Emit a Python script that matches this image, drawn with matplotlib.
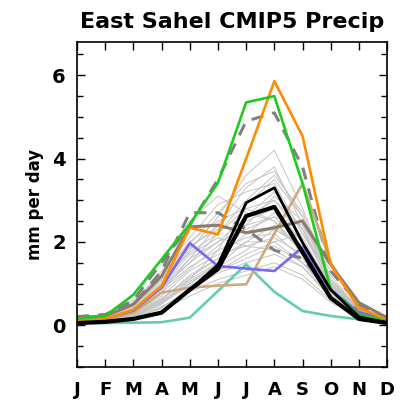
import matplotlib
matplotlib.use("Agg")
import matplotlib.pyplot as plt
import numpy as np
from matplotlib.ticker import MultipleLocator

months = ['J', 'F', 'M', 'A', 'M', 'J', 'J', 'A', 'S', 'O', 'N', 'D']

# individual CMIP5 models (thin gray)
gray_models = [
    [0.10, 0.15, 0.40, 1.00, 1.80, 2.60, 3.60, 4.20, 2.80, 1.10, 0.40, 0.15],
    [0.08, 0.12, 0.30, 0.80, 1.60, 2.40, 3.30, 3.80, 2.40, 0.90, 0.30, 0.10],
    [0.15, 0.20, 0.55, 1.30, 2.10, 2.90, 3.20, 3.40, 2.20, 1.00, 0.35, 0.12],
    [0.05, 0.08, 0.20, 0.50, 1.10, 1.80, 2.90, 3.50, 2.60, 1.00, 0.30, 0.08],
    [0.10, 0.15, 0.35, 0.90, 1.50, 2.00, 2.60, 3.00, 2.30, 1.10, 0.35, 0.10],
    [0.12, 0.18, 0.45, 1.10, 1.90, 2.30, 2.40, 2.60, 2.00, 1.00, 0.40, 0.15],
    [0.05, 0.10, 0.25, 0.60, 1.20, 1.60, 2.20, 2.70, 2.00, 0.80, 0.25, 0.08],
    [0.08, 0.12, 0.30, 0.70, 1.30, 1.70, 1.90, 2.10, 1.70, 0.80, 0.30, 0.10],
    [0.20, 0.25, 0.60, 1.60, 2.50, 3.10, 2.70, 2.50, 1.80, 0.90, 0.40, 0.20],
    [0.06, 0.10, 0.22, 0.55, 1.00, 1.40, 1.80, 2.30, 1.90, 0.90, 0.30, 0.08],
    [0.10, 0.14, 0.35, 0.85, 1.40, 1.80, 2.10, 2.20, 1.60, 0.70, 0.25, 0.10],
    [0.05, 0.08, 0.18, 0.40, 0.90, 1.30, 1.60, 1.90, 1.50, 0.70, 0.20, 0.06],
    [0.15, 0.22, 0.50, 1.20, 2.00, 2.50, 2.80, 3.00, 2.10, 0.90, 0.35, 0.15],
    [0.08, 0.12, 0.28, 0.65, 1.10, 1.50, 2.40, 3.10, 2.50, 1.00, 0.30, 0.10],
    [0.10, 0.16, 0.40, 0.95, 1.70, 2.10, 1.90, 1.80, 1.40, 0.70, 0.30, 0.12],
    [0.06, 0.09, 0.20, 0.45, 0.80, 1.10, 1.30, 1.50, 1.20, 0.60, 0.20, 0.07],
    [0.12, 0.18, 0.42, 1.05, 1.75, 2.20, 3.00, 3.60, 2.70, 1.10, 0.40, 0.14],
    [0.07, 0.10, 0.24, 0.58, 1.05, 1.45, 2.00, 2.40, 1.80, 0.80, 0.25, 0.08],
    [0.09, 0.13, 0.32, 0.78, 1.35, 1.90, 2.50, 2.80, 2.00, 0.85, 0.28, 0.10],
    [0.05, 0.07, 0.15, 0.35, 0.70, 1.00, 1.20, 1.40, 1.10, 0.55, 0.18, 0.06],
    [0.14, 0.20, 0.48, 1.15, 1.95, 2.70, 3.40, 3.70, 2.60, 1.05, 0.38, 0.14],
    [0.08, 0.11, 0.26, 0.62, 1.15, 1.60, 2.00, 2.00, 1.50, 0.75, 0.26, 0.09],
    [0.10, 0.15, 0.38, 0.88, 1.50, 2.20, 2.80, 2.50, 1.70, 0.80, 0.30, 0.11],
    [0.06, 0.09, 0.21, 0.52, 0.95, 1.30, 1.70, 2.00, 2.20, 1.20, 0.35, 0.08],
    [0.11, 0.16, 0.36, 0.92, 1.60, 2.00, 2.30, 2.60, 2.40, 1.30, 0.45, 0.13],
    [0.07, 0.10, 0.23, 0.55, 1.00, 1.50, 2.60, 3.20, 2.30, 0.95, 0.28, 0.08],
    [0.13, 0.19, 0.46, 1.10, 1.85, 2.40, 2.20, 2.30, 1.90, 0.95, 0.38, 0.14],
    [0.05, 0.08, 0.17, 0.42, 0.85, 1.25, 1.50, 1.70, 1.40, 0.65, 0.22, 0.06],
]

# highlighted models
dash_a = [0.20, 0.25, 0.60, 1.50, 2.40, 3.50, 4.90, 5.10, 3.80, 1.30, 0.50, 0.15]
dash_b = [0.20, 0.25, 0.50, 1.30, 2.70, 2.70, 2.30, 1.80, 1.60, 0.80, 0.35, 0.15]
green = [0.15, 0.22, 0.73, 1.58, 2.42, 3.42, 5.35, 5.50, 3.40, 0.85, 0.25, 0.10]
orange = [0.10, 0.15, 0.37, 0.94, 2.34, 2.18, 4.00, 5.86, 4.54, 1.45, 0.42, 0.12]
purple = [0.10, 0.15, 0.35, 0.90, 1.97, 1.42, 1.36, 1.30, 1.87, 0.85, 0.30, 0.15]
tan = [0.08, 0.12, 0.30, 0.78, 0.90, 0.95, 0.98, 2.20, 3.40, 1.50, 0.38, 0.12]
brown = [0.18, 0.22, 0.50, 1.18, 2.36, 2.40, 2.22, 2.34, 2.50, 1.45, 0.54, 0.18]
teal = [0.05, 0.05, 0.06, 0.07, 0.18, 0.82, 1.46, 0.80, 0.34, 0.22, 0.14, 0.04]
black_a = [0.05, 0.08, 0.15, 0.30, 0.85, 1.45, 2.94, 3.30, 1.98, 0.85, 0.20, 0.06]
black_b = [0.05, 0.08, 0.15, 0.30, 0.85, 1.35, 2.62, 2.84, 1.75, 0.65, 0.15, 0.05]

x = np.arange(len(months))

fig = plt.figure(figsize=(4.05, 4.0), dpi=100)
ax = fig.add_axes([0.190, 0.083, 0.766, 0.812])

for g in gray_models:
    ax.plot(x, g, color='#c4c4c4', lw=0.7)

ax.plot(x, dash_a, color='#808080', lw=2.2, ls=(0, (4, 3)))
ax.plot(x, dash_b, color='#808080', lw=2.2, ls=(0, (4, 3)))
ax.plot(x, teal, color='#66cdaa', lw=1.9)
ax.plot(x, tan, color='#cdaa7d', lw=1.9)
ax.plot(x, purple, color='#7b68ee', lw=1.9)
ax.plot(x, brown, color='#8b7d6b', lw=2.2)
ax.plot(x, orange, color='#ff8c00', lw=1.9)
ax.plot(x, green, color='#1ecc1e', lw=1.9)
ax.plot(x, black_b, color='black', lw=3.0)
ax.plot(x, black_a, color='black', lw=2.0)

ax.set_xlim(0, 11)
ax.set_ylim(-1, 6.8)
ax.set_xticks(x)
ax.set_xticklabels(months, fontsize=13, fontweight='bold')
ax.set_yticks([0, 2, 4, 6])
ax.set_yticklabels(['0', '2', '4', '6'], fontsize=14, fontweight='bold')
ax.yaxis.set_minor_locator(MultipleLocator(0.5))
ax.tick_params(axis='both', which='major', direction='in', length=6, width=1,
               top=True, right=True)
ax.tick_params(axis='y', which='minor', direction='in', length=4, width=1, right=True)
ax.tick_params(axis='x', which='major', pad=10)
ax.tick_params(axis='y', which='major', pad=8)
for s in ax.spines.values():
    s.set_linewidth(1.2)

ax.set_ylabel('mm per day', fontsize=12, fontweight='bold', labelpad=6)
ax.set_title('East Sahel CMIP5 Precip', fontsize=16, fontweight='bold', pad=10)

fig.savefig('out.png', dpi=100)
